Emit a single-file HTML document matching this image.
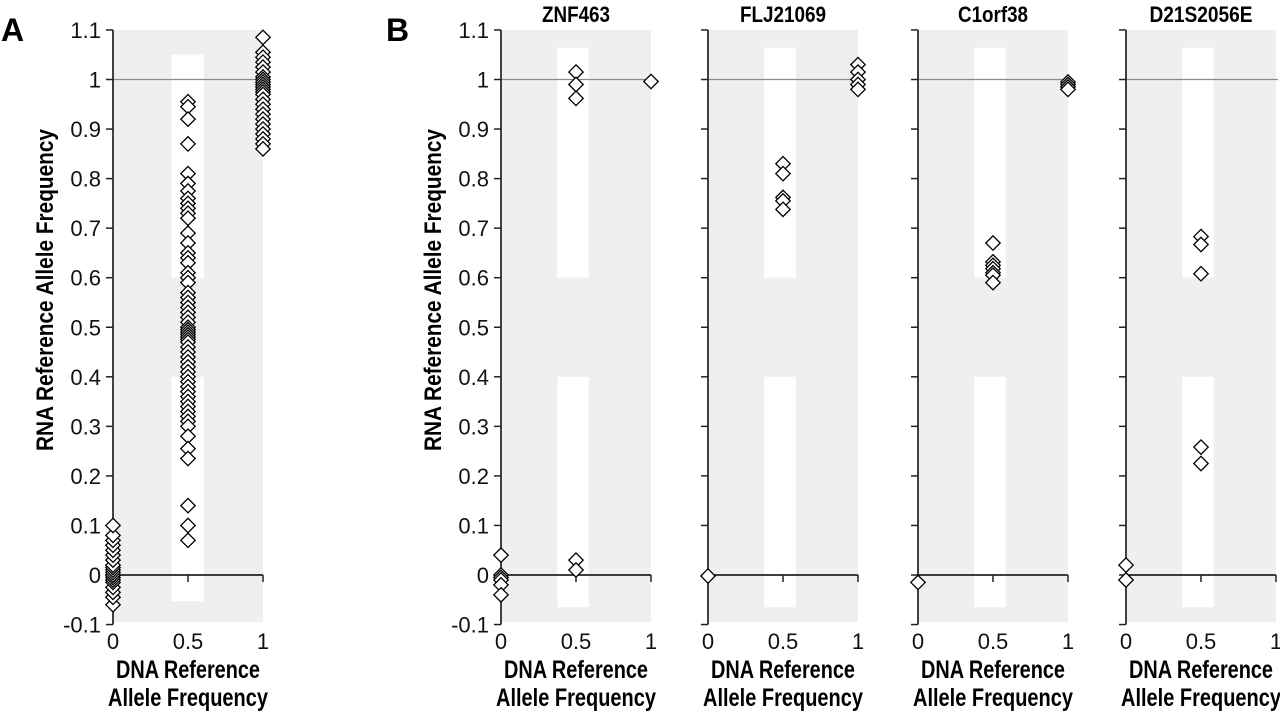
<!DOCTYPE html>
<html><head><meta charset="utf-8"><style>
html,body{margin:0;padding:0;background:#fff;}
svg{display:block;font-family:"Liberation Sans",sans-serif;}
</style></head><body>
<svg id="fig" width="1280" height="711" viewBox="0 0 1280 711" xmlns="http://www.w3.org/2000/svg">
<text x="1" y="41" font-size="32" font-weight="bold">A</text>
<text x="386" y="41" font-size="32" font-weight="bold">B</text>
<text transform="translate(53,290) rotate(-90)" text-anchor="middle" font-size="24" font-weight="bold" textLength="322" lengthAdjust="spacingAndGlyphs">RNA Reference Allele Frequency</text>
<text transform="translate(441,290) rotate(-90)" text-anchor="middle" font-size="24" font-weight="bold" textLength="322" lengthAdjust="spacingAndGlyphs">RNA Reference Allele Frequency</text>
</svg>
<script>
const panelTitles = ["", "ZNF463", "FLJ21069", "C1orf38", "D21S2056E"];
const yTicks = [1.1, 1, 0.9, 0.8, 0.7, 0.6, 0.5, 0.4, 0.3, 0.2, 0.1, 0, -0.1];
const yTickLabels = ["1.1","1","0.9","0.8","0.7","0.6","0.5","0.4","0.3","0.2","0.1","0","-0.1"];
const xTicks = [0, 0.5, 1];
const xTickLabels = ["0","0.5","1"];
// Panel A data
const a_x0 = [-0.06,-0.045,-0.035,-0.025,-0.015,-0.01,-0.005,0,0,0,0.005,0.01,0.015,0.02,0.03,0.04,0.05,0.06,0.07,0.08,0.10];
const a_x05 = [0.955,0.945,0.92,0.87,0.81,0.79,0.775,0.76,0.75,0.74,0.73,0.72,0.69,0.67,0.65,0.64,0.63,0.61,0.6,0.59,0.57,0.56,0.55,0.54,0.53,0.52,0.51,0.5,0.495,0.49,0.485,0.48,0.475,0.47,0.46,0.45,0.44,0.43,0.42,0.41,0.4,0.39,0.38,0.37,0.36,0.35,0.34,0.33,0.32,0.31,0.3,0.28,0.255,0.235,0.14,0.1,0.07];
const a_x1 = [1.085,1.055,1.045,1.035,1.025,1.015,1.005,1.0,0.995,0.99,0.985,0.98,0.975,0.97,0.96,0.95,0.94,0.93,0.92,0.91,0.9,0.89,0.88,0.87,0.86];
// Panel B data
const znf_x0 = [0.04,0.0,-0.005,-0.01,-0.02,-0.04];
const znf_x05 = [1.015,0.99,0.962,0.03,0.01];
const znf_x1 = [0.996];
const flj_x0 = [-0.002];
const flj_x05 = [0.83,0.81,0.762,0.755,0.738];
const flj_x1 = [1.03,1.015,1.0,0.99,0.98];
const c1_x0 = [-0.015];
const c1_x05 = [0.67,0.632,0.625,0.618,0.61,0.605,0.59];
const c1_x1 = [0.995,0.99,0.985,0.98];
const d21_x0 = [0.02,-0.01];
const d21_x05 = [0.683,0.667,0.608,0.258,0.225];
const d21_x1 = [];

const panelsData = [[a_x0,a_x05,a_x1],[znf_x0,znf_x05,znf_x1],[flj_x0,flj_x05,flj_x1],[c1_x0,c1_x05,c1_x1],[d21_x0,d21_x05,d21_x1]];
const titleWidths = [0, 68, 86, 70, 103];
const NS = "http://www.w3.org/2000/svg";
const svg = document.getElementById('fig');
const origins = [113, 501, 708, 918, 1126];
const W = 150;
function yScale(v){ return 575 - v*495.5; }
function mk(tag, attrs, parent){
  const e = document.createElementNS(NS, tag);
  for (const k in attrs) e.setAttribute(k, attrs[k]);
  (parent||svg).appendChild(e); return e;
}
origins.forEach((x0, p) => {
  const g = mk('g', {});
  
  
  const xs = v => x0 + v*W;
  const isA = p===0;
  const bg = mk('rect', {x:x0, y:yScale(1.1), width:W, height:yScale(-0.095)-yScale(1.1), fill:'#efefef'}, g);
  
  
  const wl = isA ? 0.39 : 0.375, wr = isA ? 0.605 : 0.585;
  const topV = isA ? 1.05 : 1.064, botV = isA ? -0.053 : -0.065;
  const b1 = mk('rect', {x:xs(wl), y:yScale(topV), width:xs(wr)-xs(wl), height:yScale(0.6)-yScale(topV), fill:'#fff'}, g);
  
  
  const b2 = mk('rect', {x:xs(wl), y:yScale(0.4), width:xs(wr)-xs(wl), height:yScale(botV)-yScale(0.4), fill:'#fff'}, g);
  
  
  const ref = mk('line', {x1:x0, x2:x0+W+(p===4?2:0), y1:yScale(1), y2:yScale(1), stroke:'#8a8a8a', 'stroke-width':1.3}, g);
  
  
  const ya = mk('line', {x1:x0, x2:x0, y1:yScale(1.1), y2:yScale(-0.1), stroke:'#222', 'stroke-width':1.7}, g);
  
  
  yTicks.forEach((t,i) => {
    mk('line', {x1:x0-7, x2:x0, y1:yScale(t), y2:yScale(t), stroke:'#222', 'stroke-width':1.5}, g);
    if (p<=1) {
      const tl = mk('text', {x:x0-12, y:yScale(t)+8, 'text-anchor':'end', 'font-size':22, fill:'#111'}, g);
      tl.textContent = yTickLabels[i];
      
      
    }
  });
  const xa = mk('line', {x1:x0, x2:x0+W, y1:yScale(0), y2:yScale(0), stroke:'#222', 'stroke-width':1.7}, g);
  
  
  xTicks.forEach((t,i) => {
    mk('line', {x1:xs(t), x2:xs(t), y1:yScale(0), y2:yScale(0)+7, stroke:'#222', 'stroke-width':1.5}, g);
    const tl = mk('text', {x:xs(t), y:649, 'text-anchor':'middle', 'font-size':22, fill:'#111'}, g);
    tl.textContent = xTickLabels[i];
    
    
  });
  const t1 = mk('text', {x:x0+W/2, y:678, 'text-anchor':'middle', 'font-size':25, 'font-weight':'bold', textLength:144, lengthAdjust:'spacingAndGlyphs'}, g);
  t1.textContent = 'DNA Reference';
  
  
  const t2 = mk('text', {x:x0+W/2, y:706, 'text-anchor':'middle', 'font-size':25, 'font-weight':'bold', textLength:160, lengthAdjust:'spacingAndGlyphs'}, g);
  t2.textContent = 'Allele Frequency';
  
  
  if (panelTitles[p]) {
    const tt = mk('text', {x:x0+W/2, y:22, 'text-anchor':'middle', 'font-size':22, 'font-weight':'bold', textLength:titleWidths[p], lengthAdjust:'spacingAndGlyphs'}, g);
    tt.textContent = panelTitles[p];
    
    
  }
  const r = 7.2;
  panelsData[p].forEach((vals, k) => {
    vals.forEach(v => {
      const cx = xs(xTicks[k]), cy = yScale(v);
      const d = mk('path', {d:`M${cx},${cy-r}L${cx+r},${cy}L${cx},${cy+r}L${cx-r},${cy}Z`, fill:'#fff', stroke:'#000', 'stroke-width':1.3}, g);
      
      
    });
  });
});
</script>
</body></html>
